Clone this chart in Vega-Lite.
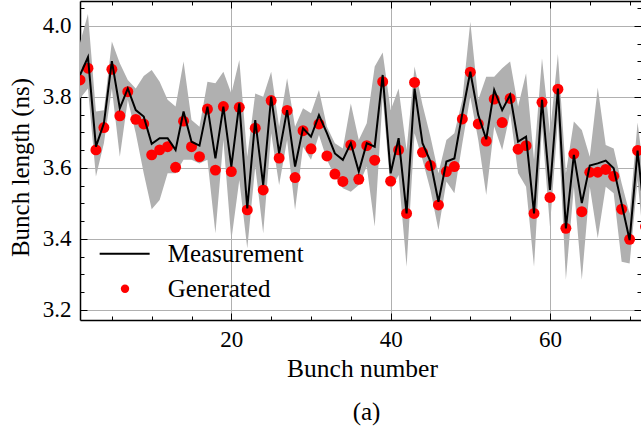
{
  "$schema": "https://vega.github.io/schema/vega-lite/v6.json",
  "width": 561,
  "height": 319,
  "autosize": {"type": "none"},
  "padding": {"left": 80, "top": 1, "right": 0, "bottom": 112},
  "background": "white",
  "config": {"view": {"stroke": null}},
  "title": {"text": "(a)", "orient": "bottom", "frame": "group", "anchor": "middle", "dx": 6, "offset": 18, "font": "Liberation Serif", "fontSize": 25, "fontWeight": "normal", "color": "black"},
  "data": {"values": [
    {"n":1,"meas":3.862,"gen":3.848,"lo":3.796,"hi":3.953},
    {"n":2,"meas":3.912,"gen":3.881,"lo":3.824,"hi":4.034},
    {"n":3,"meas":3.660,"gen":3.651,"lo":3.576,"hi":3.759},
    {"n":4,"meas":3.726,"gen":3.714,"lo":3.670,"hi":3.763},
    {"n":5,"meas":3.901,"gen":3.878,"lo":3.824,"hi":3.956},
    {"n":6,"meas":3.768,"gen":3.747,"lo":3.632,"hi":3.895},
    {"n":7,"meas":3.824,"gen":3.815,"lo":3.792,"hi":3.848},
    {"n":8,"meas":3.763,"gen":3.737,"lo":3.698,"hi":3.824},
    {"n":9,"meas":3.745,"gen":3.724,"lo":3.585,"hi":3.859},
    {"n":10,"meas":3.668,"gen":3.637,"lo":3.484,"hi":3.876},
    {"n":11,"meas":3.684,"gen":3.651,"lo":3.510,"hi":3.843},
    {"n":12,"meas":3.684,"gen":3.660,"lo":3.585,"hi":3.792},
    {"n":13,"meas":3.651,"gen":3.602,"lo":3.585,"hi":3.773},
    {"n":14,"meas":3.759,"gen":3.732,"lo":3.623,"hi":3.900},
    {"n":15,"meas":3.674,"gen":3.660,"lo":3.623,"hi":3.735},
    {"n":16,"meas":3.663,"gen":3.632,"lo":3.613,"hi":3.716},
    {"n":17,"meas":3.773,"gen":3.766,"lo":3.623,"hi":3.843},
    {"n":18,"meas":3.627,"gen":3.594,"lo":3.416,"hi":3.839},
    {"n":19,"meas":3.773,"gen":3.773,"lo":3.679,"hi":3.871},
    {"n":20,"meas":3.604,"gen":3.590,"lo":3.397,"hi":3.810},
    {"n":21,"meas":3.782,"gen":3.771,"lo":3.566,"hi":3.904},
    {"n":22,"meas":3.486,"gen":3.482,"lo":3.374,"hi":3.632},
    {"n":23,"meas":3.735,"gen":3.712,"lo":3.604,"hi":3.810},
    {"n":24,"meas":3.552,"gen":3.538,"lo":3.416,"hi":3.801},
    {"n":25,"meas":3.801,"gen":3.790,"lo":3.698,"hi":3.871},
    {"n":26,"meas":3.641,"gen":3.628,"lo":3.552,"hi":3.716},
    {"n":27,"meas":3.763,"gen":3.762,"lo":3.679,"hi":3.853},
    {"n":28,"meas":3.604,"gen":3.573,"lo":3.482,"hi":3.716},
    {"n":29,"meas":3.712,"gen":3.705,"lo":3.660,"hi":3.768},
    {"n":30,"meas":3.688,"gen":3.654,"lo":3.623,"hi":3.754},
    {"n":31,"meas":3.749,"gen":3.724,"lo":3.693,"hi":3.820},
    {"n":32,"meas":3.698,"gen":3.634,"lo":3.623,"hi":3.716},
    {"n":33,"meas":3.641,"gen":3.583,"lo":3.576,"hi":3.670},
    {"n":34,"meas":3.623,"gen":3.562,"lo":3.543,"hi":3.655},
    {"n":35,"meas":3.670,"gen":3.665,"lo":3.533,"hi":3.782},
    {"n":36,"meas":3.590,"gen":3.568,"lo":3.552,"hi":3.679},
    {"n":37,"meas":3.670,"gen":3.663,"lo":3.604,"hi":3.726},
    {"n":38,"meas":3.660,"gen":3.622,"lo":3.435,"hi":3.886},
    {"n":39,"meas":3.862,"gen":3.843,"lo":3.801,"hi":3.925},
    {"n":40,"meas":3.585,"gen":3.563,"lo":3.538,"hi":3.763},
    {"n":41,"meas":3.684,"gen":3.651,"lo":3.580,"hi":3.824},
    {"n":42,"meas":3.472,"gen":3.472,"lo":3.322,"hi":3.651},
    {"n":43,"meas":3.824,"gen":3.841,"lo":3.698,"hi":3.886},
    {"n":44,"meas":3.670,"gen":3.644,"lo":3.623,"hi":3.778},
    {"n":45,"meas":3.618,"gen":3.607,"lo":3.538,"hi":3.688},
    {"n":46,"meas":3.505,"gen":3.496,"lo":3.425,"hi":3.585},
    {"n":47,"meas":3.618,"gen":3.590,"lo":3.562,"hi":3.679},
    {"n":48,"meas":3.627,"gen":3.604,"lo":3.529,"hi":3.698},
    {"n":49,"meas":3.754,"gen":3.738,"lo":3.670,"hi":3.792},
    {"n":50,"meas":3.871,"gen":3.870,"lo":3.801,"hi":4.012},
    {"n":51,"meas":3.749,"gen":3.724,"lo":3.679,"hi":3.792},
    {"n":52,"meas":3.681,"gen":3.676,"lo":3.524,"hi":3.857},
    {"n":53,"meas":3.820,"gen":3.794,"lo":3.717,"hi":3.857},
    {"n":54,"meas":3.763,"gen":3.728,"lo":3.651,"hi":3.881},
    {"n":55,"meas":3.806,"gen":3.796,"lo":3.754,"hi":3.900},
    {"n":56,"meas":3.674,"gen":3.653,"lo":3.585,"hi":3.773},
    {"n":57,"meas":3.688,"gen":3.663,"lo":3.547,"hi":3.867},
    {"n":58,"meas":3.472,"gen":3.472,"lo":3.322,"hi":3.623},
    {"n":59,"meas":3.792,"gen":3.785,"lo":3.717,"hi":3.909},
    {"n":60,"meas":3.538,"gen":3.517,"lo":3.435,"hi":3.698},
    {"n":61,"meas":3.824,"gen":3.822,"lo":3.735,"hi":3.921},
    {"n":62,"meas":3.430,"gen":3.430,"lo":3.285,"hi":3.585},
    {"n":63,"meas":3.637,"gen":3.640,"lo":3.547,"hi":3.731},
    {"n":64,"meas":3.501,"gen":3.477,"lo":3.285,"hi":3.707},
    {"n":65,"meas":3.607,"gen":3.588,"lo":3.547,"hi":3.632},
    {"n":66,"meas":3.613,"gen":3.588,"lo":3.402,"hi":3.827},
    {"n":67,"meas":3.621,"gen":3.596,"lo":3.547,"hi":3.665},
    {"n":68,"meas":3.599,"gen":3.577,"lo":3.529,"hi":3.655},
    {"n":69,"meas":3.499,"gen":3.484,"lo":3.336,"hi":3.557},
    {"n":70,"meas":3.397,"gen":3.399,"lo":3.331,"hi":3.472},
    {"n":71,"meas":3.649,"gen":3.649,"lo":3.566,"hi":3.728},
    {"n":72,"meas":3.440,"gen":3.435,"lo":3.330,"hi":3.550}
  ]},
  "resolve": {"axis": {"x": "independent", "y": "independent"}},
  "layer": [
    {
      "mark": {"type": "area", "color": "#b0b0b0", "opacity": 1, "clip": true},
      "encoding": {
        "x": {"field": "n", "type": "quantitative",
          "scale": {"domain": [1, 71.43], "nice": false, "zero": false},
          "axis": {
            "orient": "bottom",
            "values": [5,10,15,20,25,30,35,40,45,50,55,60,65,70],
            "title": "Bunch number",
            "titleFont": "Liberation Serif", "titleFontSize": 25.5, "titleFontWeight": "normal", "titleColor": "black",
            "titleBaseline": "alphabetic", "titleY": 56, "titleX": 282,
            "labelFont": "Liberation Serif", "labelFontSize": 23, "labelColor": "black",
            "labelExpr": "datum.value % 20 === 0 ? datum.label : ''",
            "labelPadding": 15, "labelFlush": false, "labelOverlap": false,
            "tickSize": {"condition": {"test": "datum.value % 20 === 0", "value": -7}, "value": -4},
            "tickColor": "black", "tickWidth": 1,
            "grid": true, "gridColor": "#b0b0b0", "gridWidth": 1,
            "gridOpacity": {"condition": {"test": "datum.value % 20 === 0", "value": 1}, "value": 0},
            "domainColor": "black", "domainWidth": 1.5
          }
        },
        "y": {"field": "lo", "type": "quantitative",
          "scale": {"domain": [3.1718, 4.0704], "nice": false, "zero": false},
          "axis": {
            "orient": "left",
            "values": [3.2,3.25,3.3,3.35,3.4,3.45,3.5,3.55,3.6,3.65,3.7,3.75,3.8,3.85,3.9,3.95,4.0,4.05],
            "title": "Bunch length (ns)",
            "titleFont": "Liberation Serif", "titleFontSize": 25, "titleFontWeight": "normal", "titleColor": "black",
            "titleBaseline": "alphabetic", "titleX": -52, "titleY": 166, "titleAngle": -90,
            "labelFont": "Liberation Serif", "labelFontSize": 23, "labelColor": "black",
            "labelExpr": "round(datum.value*100) % 20 === 0 ? format(datum.value, '.1f') : ''",
            "labelPadding": 16, "labelFlush": false, "labelOverlap": false,
            "tickSize": {"condition": {"test": "round(datum.value*100) % 20 === 0", "value": -7}, "value": -4},
            "tickColor": "black", "tickWidth": 1,
            "grid": true, "gridColor": "#b0b0b0", "gridWidth": 1,
            "gridOpacity": {"condition": {"test": "round(datum.value*100) % 20 === 0", "value": 1}, "value": 0},
            "domainColor": "black", "domainWidth": 1.5
          }
        },
        "y2": {"field": "hi"}
      }
    },
    {
      "mark": {"type": "circle", "size": 120, "opacity": 1, "clip": true},
      "encoding": {
        "x": {"field": "n", "type": "quantitative", "axis": null},
        "y": {"field": "gen", "type": "quantitative", "axis": null},
        "fill": {"datum": "Generated", "type": "nominal",
          "scale": {"domain": ["Generated"], "range": ["#ff0000"]},
          "legend": {"orient": "none", "legendX": 32.5, "legendY": 275.2, "title": null, "padding": 0,
            "symbolType": "circle", "symbolSize": 70, "symbolStrokeWidth": 0, "symbolOpacity": 1,
            "labelFont": "Liberation Serif", "labelFontSize": 25, "labelColor": "black", "labelOffset": 30.2}
        }
      }
    },
    {
      "mark": {"type": "line", "strokeWidth": 2, "clip": true},
      "encoding": {
        "x": {"field": "n", "type": "quantitative",
          "axis": {
            "orient": "top",
            "values": [5,10,15,20,25,30,35,40,45,50,55,60,65,70],
            "title": null, "labels": false, "grid": false,
            "tickSize": {"condition": {"test": "datum.value % 20 === 0", "value": -7}, "value": -4},
            "tickColor": "black", "tickWidth": 1,
            "domainColor": "black", "domainWidth": 1.5
          }
        },
        "y": {"field": "meas", "type": "quantitative",
          "axis": {
            "orient": "right",
            "values": [3.2,3.25,3.3,3.35,3.4,3.45,3.5,3.55,3.6,3.65,3.7,3.75,3.8,3.85,3.9,3.95,4.0,4.05],
            "title": null, "labels": false, "grid": false, "domain": false,
            "tickSize": {"condition": {"test": "round(datum.value*100) % 20 === 0", "value": -7}, "value": -4},
            "tickColor": "black", "tickWidth": 1
          }
        },
        "stroke": {"datum": "Measurement", "type": "nominal",
          "scale": {"domain": ["Measurement"], "range": ["black"]},
          "legend": {"orient": "none", "legendX": 18.65, "legendY": 226.7, "title": null, "padding": 0,
            "symbolType": "stroke", "symbolSize": 2500, "symbolStrokeWidth": 2, "symbolOpacity": 1,
            "labelFont": "Liberation Serif", "labelFontSize": 25, "labelColor": "black", "labelOffset": 17}
        }
      }
    }
  ]
}
